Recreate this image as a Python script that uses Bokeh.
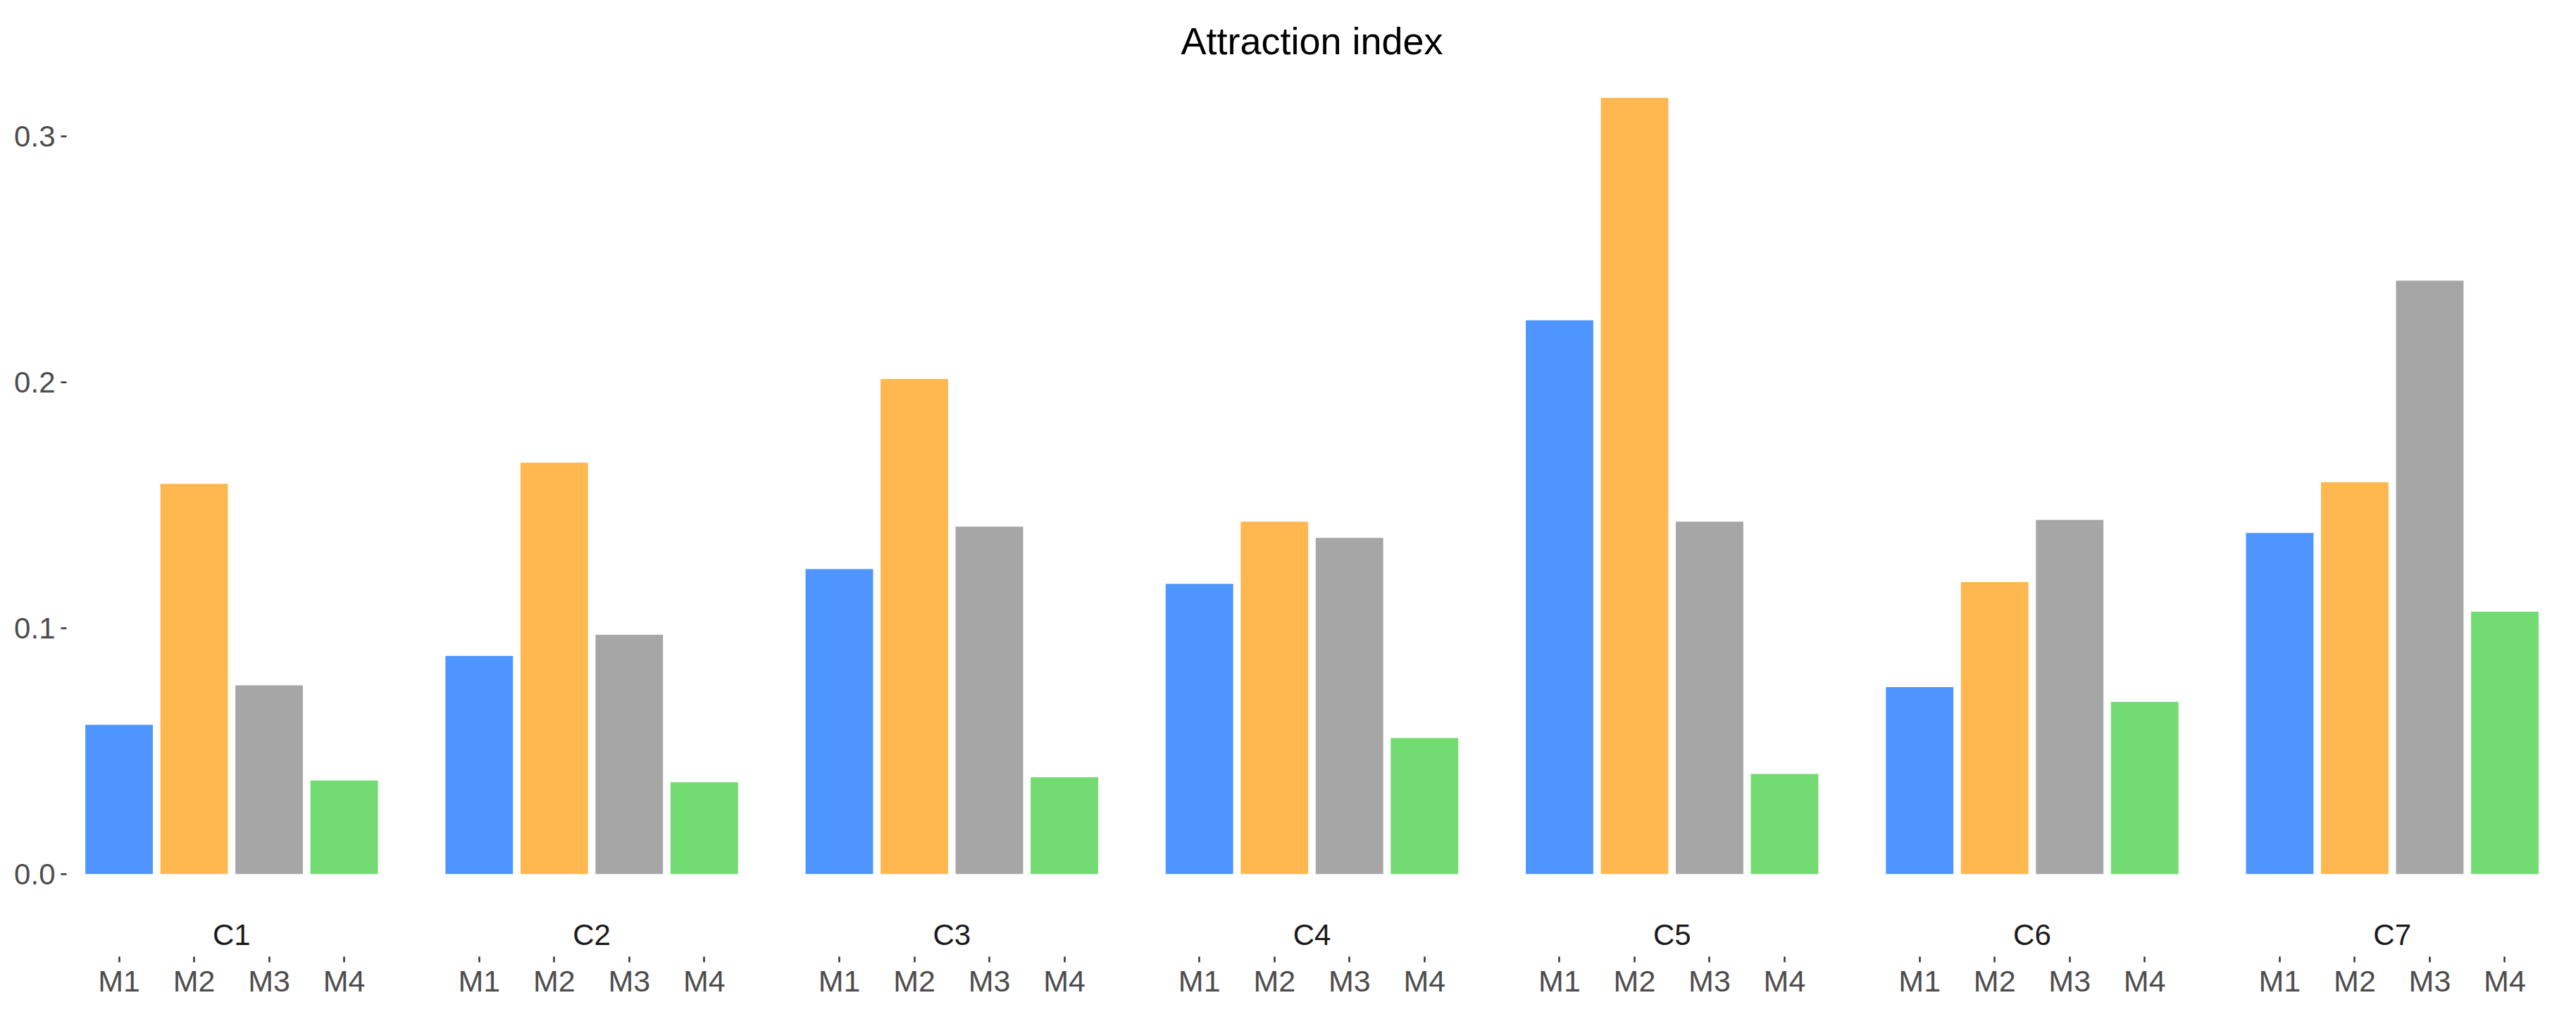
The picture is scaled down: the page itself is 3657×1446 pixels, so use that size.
from bokeh.plotting import figure
from bokeh.models import FactorRange, ColumnDataSource, Range1d, FixedTicker, CustomJSTickFormatter
from bokeh.core.properties import value
from bokeh.embed import file_html
from bokeh.resources import INLINE

# ---- data ----
clusters = ["C1", "C2", "C3", "C4", "C5", "C6", "C7"]
measures = ["M1", "M2", "M3", "M4"]
m1_vals = [0.0607, 0.0887, 0.1240, 0.1180, 0.2252, 0.0760, 0.1387]
m2_vals = [0.1587, 0.1673, 0.2013, 0.1433, 0.3157, 0.1187, 0.1593]
m3_vals = [0.0767, 0.0973, 0.1413, 0.1367, 0.1433, 0.1440, 0.2413]
m4_vals = [0.0380, 0.0373, 0.0393, 0.0553, 0.0407, 0.0700, 0.1067]
measure_colors = ["#4F95FF", "#FFB84F", "#A6A6A6", "#72DC72"]
y_ticks = [0.0, 0.1, 0.2, 0.3]
title_text = "Attraction index"

series = [m1_vals, m2_vals, m3_vals, m4_vals]
xs, tops, cols = [], [], []
for ci, c in enumerate(clusters):
    for mi, m in enumerate(measures):
        xs.append((c, m))
        tops.append(series[mi][ci])
        cols.append(measure_colors[mi])
src = ColumnDataSource(dict(x=xs, top=tops, color=cols))

FONT = "Liberation Sans"

x_range = FactorRange(*xs, group_padding=0.8, range_padding=0.2,
                      range_padding_units="absolute")
p = figure(x_range=x_range, y_range=Range1d(-0.03362, 0.3232),
           width=3630, height=1420, output_backend="svg", toolbar_location=None,
           min_border_left=94, min_border_right=0, min_border_top=110,
           min_border_bottom=63)

p.vbar(x="x", top="top", bottom=0, width=0.9, fill_color="color",
       line_color=None, source=src)

# cluster labels (strip) between panel and measure axis
p.text(x=clusters, y=[-0.0248] * len(clusters), text=clusters,
       text_align="center", text_baseline="middle",
       text_font=value(FONT), text_font_size="42px", text_color="#1A1A1A")

p.title.text = title_text
p.title.align = "center"
p.title.text_font = FONT
p.title.text_font_size = "54px"
p.title.text_font_style = "normal"
p.title.text_color = "#000000"
p.title.standoff = 50

p.outline_line_color = None
p.xgrid.grid_line_color = None
p.ygrid.grid_line_color = None
p.background_fill_color = "white"
p.border_fill_color = "white"

ya = p.yaxis[0]
ya.ticker = FixedTicker(ticks=y_ticks)
ya.minor_tick_line_color = None
ya.axis_line_color = None
ya.major_tick_in = 0
ya.major_tick_out = 8
ya.major_tick_line_width = 2.5
ya.major_tick_line_color = "#333333"
ya.major_label_standoff = 8
ya.major_label_text_font = FONT
ya.major_label_text_font_size = "42px"
ya.major_label_text_color = "#4D4D4D"
ya.formatter = CustomJSTickFormatter(code="return tick.toFixed(1);")

xa = p.xaxis[0]
xa.axis_line_color = None
xa.major_tick_in = 0
xa.major_tick_out = 8
xa.major_tick_line_width = 2.5
xa.major_tick_line_color = "#333333"
xa.major_label_standoff = 2
xa.major_label_text_font = FONT
xa.major_label_text_font_size = "43px"
xa.major_label_text_color = "#4D4D4D"
xa.group_text_font_size = "0px"
xa.group_text_color = None
xa.separator_line_color = None

open("out.html", "w").write(file_html(p, INLINE))
